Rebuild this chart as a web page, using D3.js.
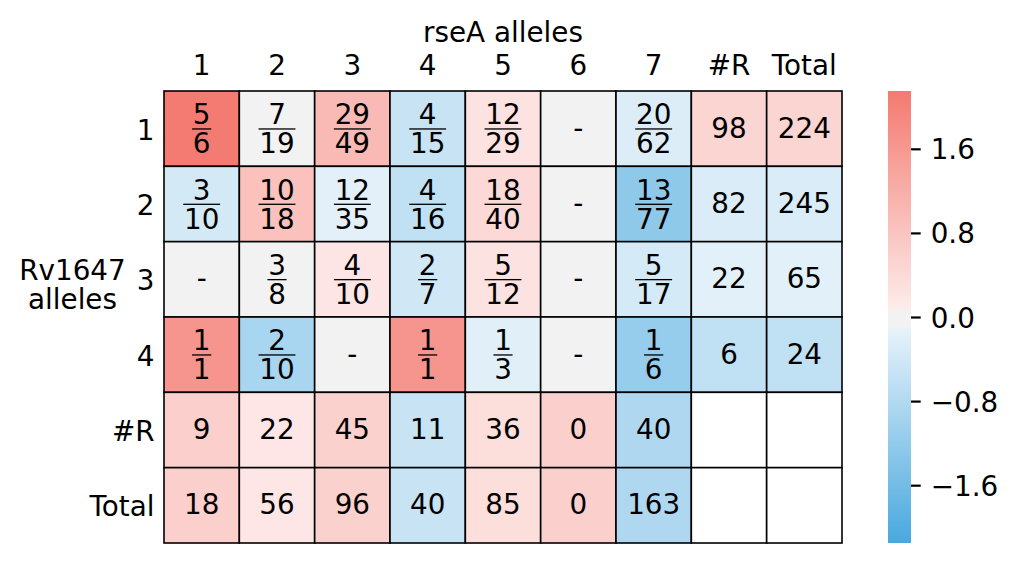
<!DOCTYPE html>
<html><head><meta charset="utf-8">
<script src="https://cdn.jsdelivr.net/npm/d3@7"></script>
<style>
body{margin:0;background:#fff}
svg{display:block}
text{font-family:"DejaVu Sans",sans-serif;font-size:27.8px;fill:#000}
</style>
</head><body><svg id="chart" width="1017" height="567"></svg>
<script>
// ---- data ----
const colLabels = ["1","2","3","4","5","6","7","#R","Total"];
const rowLabels = ["1","2","3","4","#R","Total"];
const cellText = [
  ["5/6","7/19","29/49","4/15","12/29","-","20/62","98","224"],
  ["3/10","10/18","12/35","4/16","18/40","-","13/77","82","245"],
  ["-","3/8","4/10","2/7","5/12","-","5/17","22","65"],
  ["1/1","2/10","-","1/1","1/3","-","1/6","6","24"],
  ["9","22","45","11","36","0","40","",""],
  ["18","56","96","40","85","0","163","",""]
];
const cellValues = [
  [2.13,-0.02,1.0,-0.53,0.25,0,-0.26,0.5,0.5],
  [-0.36,0.85,-0.17,-0.62,0.42,0,-1.25,-0.3,-0.3],
  [0,0.01,0.2,-0.42,0.25,0,-0.35,-0.18,-0.18],
  [1.65,-0.93,0,1.65,-0.2,0,-1.15,-0.62,-0.62],
  [0.6,0.18,0.56,-0.53,0.34,0.6,-0.83,null,null],
  [0.6,0.18,0.56,-0.53,0.34,0.6,-0.83,null,null]
];
const colorTicks = [-1.6,-0.8,0,0.8,1.6];
const vmax = 2.15;
const xTitle = "rseA alleles";
const yTitle = ["Rv1647","alleles"];

// ---- layout ----
const svg = d3.select("#chart");
const grid = {left:164, right:842, top:91, bottom:543};
const x = d3.scaleBand().domain(colLabels).range([grid.left, grid.right]);
const y = d3.scaleBand().domain(rowLabels).range([grid.top, grid.bottom]);

const color = d3.scaleLinear()
  .domain([-vmax, -0.095, -0.094, 0.076, 0.077, vmax])
  .range(["#48a8de","#e9f3fa","#f2f2f2","#f2f2f2","#fdeceb","#f47a70"])
  .clamp(true);

// cells
const cells = [];
rowLabels.forEach((r,i)=>colLabels.forEach((c,j)=>cells.push({r,c,v:cellValues[i][j],t:cellText[i][j]})));

svg.append("g").selectAll("rect").data(cells).join("rect")
  .attr("x",d=>x(d.c)).attr("y",d=>y(d.r))
  .attr("width",x.bandwidth()).attr("height",y.bandwidth())
  .attr("fill",d=>d.v==null?"#ffffff":color(d.v))
  .attr("stroke","#000").attr("stroke-width",1.6);

// cell texts
const tg = svg.append("g");
cells.forEach(d=>{
  if(!d.t) return;
  const cx = x(d.c)+x.bandwidth()/2;
  const cy = y(d.r)+y.bandwidth()/2;
  if(d.t.includes("/")){
    const [n,m] = d.t.split("/");
    const bar = cy+0.3;
    const t = tg.append("text").attr("text-anchor","middle");
    const s1 = t.append("tspan").attr("x",cx).attr("y",bar-4.7).text(n);
    const s2 = t.append("tspan").attr("x",cx).attr("y",bar+24.4).text(m);
    const w = Math.max(s1.node().getComputedTextLength(), s2.node().getComputedTextLength())+1.5;
    tg.append("rect").attr("x",cx-w/2).attr("y",bar-0.65).attr("width",w).attr("height",1.3).attr("fill","#000");
  } else {
    tg.append("text").attr("x",cx).attr("y",cy+9).attr("text-anchor","middle").text(d.t);
  }
});

// column labels (top)
svg.append("g").selectAll("text").data(colLabels).join("text")
  .attr("x",d=>x(d)+x.bandwidth()/2).attr("y",grid.top-16.3)
  .attr("text-anchor","middle").text(d=>d);
// row labels
svg.append("g").selectAll("text").data(rowLabels).join("text")
  .attr("x",grid.left-9.5).attr("y",d=>y(d)+y.bandwidth()/2+11)
  .attr("text-anchor","end").text(d=>d);

// titles
svg.append("text").attr("x",(grid.left+grid.right)/2).attr("y",41.7)
  .attr("text-anchor","middle").text(xTitle);
const yt = svg.append("text").attr("text-anchor","middle");
yTitle.forEach((s,i)=>yt.append("tspan").attr("x",72.5).attr("y",279.5+i*29).text(s));

// colorbar
const cb = {x:888, w:23, top:91, bottom:543};
const cy = d3.scaleLinear().domain([-vmax, vmax]).range([cb.bottom, cb.top]);
const steps = d3.range(cb.top, cb.bottom, 1);
svg.append("g").selectAll("rect").data(steps).join("rect")
  .attr("x",cb.x).attr("y",d=>d).attr("width",cb.w).attr("height",1.05)
  .attr("fill",d=>color(cy.invert(d+0.5)));

const axis = d3.axisRight(cy).tickValues(colorTicks).tickSize(9.7).tickPadding(10)
  .tickFormat(d=>d3.format(".1f")(d).replace("-","\u2212"));
const ag = svg.append("g").attr("transform",`translate(${cb.x+cb.w},0)`).call(axis);
ag.select(".domain").remove();
ag.selectAll(".tick line").attr("stroke","#000").attr("stroke-width",2.2);
ag.selectAll(".tick text").attr("font-family","DejaVu Sans").attr("font-size","27.8px").attr("fill","#000").attr("dy","0.36em");
</script>
</body></html>
